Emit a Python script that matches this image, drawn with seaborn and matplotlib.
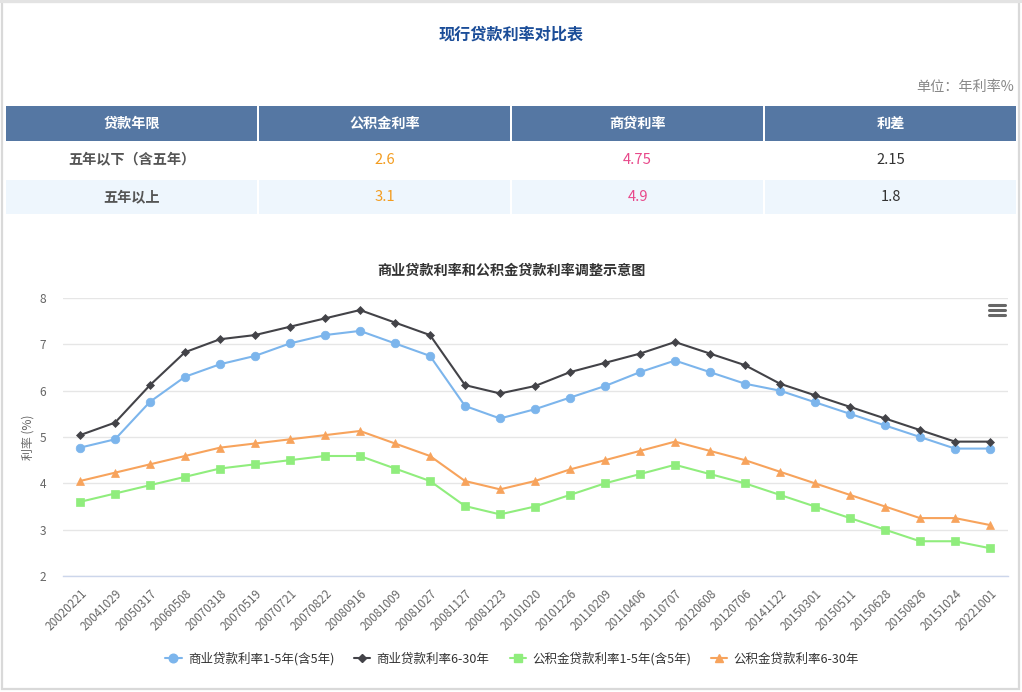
import matplotlib
matplotlib.use("Agg")
import matplotlib.pyplot as plt
from matplotlib.patches import Rectangle
from matplotlib.lines import Line2D
import seaborn as sns
import pandas as pd

sns.set_theme(style="white")
plt.rcParams['font.family'] = ['Noto Sans CJK SC', 'DejaVu Sans']

# ---------------- data ----------------
dates = ["20020221", "20041029", "20050317", "20060508", "20070318", "20070519",
         "20070721", "20070822", "20080916", "20081009", "20081027", "20081127",
         "20081223", "20101020", "20101226", "20110209", "20110406", "20110707",
         "20120608", "20120706", "20141122", "20150301", "20150511", "20150628",
         "20150826", "20151024", "20221001"]
com_short = [4.77, 4.95, 5.76, 6.30, 6.57, 6.75, 7.02, 7.20, 7.29, 7.02, 6.75, 5.67,
             5.40, 5.60, 5.85, 6.10, 6.40, 6.65, 6.40, 6.15, 6.00, 5.75, 5.50, 5.25,
             5.00, 4.75, 4.75]
com_long = [5.04, 5.31, 6.12, 6.83, 7.11, 7.20, 7.38, 7.56, 7.74, 7.47, 7.20, 6.12,
            5.94, 6.10, 6.40, 6.60, 6.80, 7.05, 6.80, 6.55, 6.15, 5.90, 5.65, 5.40,
            5.15, 4.90, 4.90]
pf_short = [3.60, 3.78, 3.96, 4.14, 4.32, 4.41, 4.50, 4.59, 4.59, 4.32, 4.05, 3.51,
            3.33, 3.50, 3.75, 4.00, 4.20, 4.40, 4.20, 4.00, 3.75, 3.50, 3.25, 3.00,
            2.75, 2.75, 2.60]
pf_long = [4.05, 4.23, 4.41, 4.59, 4.77, 4.86, 4.95, 5.04, 5.13, 4.86, 4.59, 4.05,
           3.87, 4.05, 4.30, 4.50, 4.70, 4.90, 4.70, 4.50, 4.25, 4.00, 3.75, 3.50,
           3.25, 3.25, 3.10]
series_names = ["商业贷款利率1-5年(含5年)", "商业贷款利率6-30年",
                "公积金贷款利率1-5年(含5年)", "公积金贷款利率6-30年"]
series_colors = ["#7cb5ec", "#434348", "#90ed7d", "#f7a35c"]
series_markers = ["o", "D", "s", "^"]
series_msize = [6.2, 3.8, 6.2, 6.2]

table_header = ["贷款年限", "公积金利率", "商贷利率", "利差"]
table_rows = [["五年以下（含五年）", "2.6", "4.75", "2.15"],
              ["五年以上", "3.1", "4.9", "1.8"]]

title = "现行贷款利率对比表"
unit_text = "单位：年利率%"
chart_title = "商业贷款利率和公积金贷款利率调整示意图"
y_label = "利率 (%)"
y_ticks = [2, 3, 4, 5, 6, 7, 8]

# ---------------- figure ----------------
W, H = 1022, 692
fig = plt.figure(figsize=(W / 100, H / 100), dpi=100)
fig.patch.set_facecolor("white")

def fx(x):
    return x / W

def fy(y):
    return 1 - y / H

# outer border
fig.patches.append(Rectangle((fx(2), fy(689)), fx(1017), (687) / H, transform=fig.transFigure,
                             fill=False, edgecolor="#d9d9d9", linewidth=1.6))
fig.patches.append(Rectangle((0, fy(3)), 1, 3 / H, transform=fig.transFigure,
                             facecolor="#e3e3e3", edgecolor="none"))

# title
fig.text(fx(511), fy(35), title, ha="center", va="center", fontsize=11.6,
         fontweight="bold", color="#1b4d98")
fig.text(fx(1014), fy(87), unit_text, ha="right", va="center", fontsize=10.2,
         color="#888888")

# table
col_edges = [(6, 257), (259, 510), (512, 763), (765, 1016)]
hdr_top, hdr_bot = 106, 141
row_spans = [(141, 178), (180, 214)]
row_bg = ["white", "#eef6fd"]
for (x0, x1), txt in zip(col_edges, table_header):
    fig.patches.append(Rectangle((fx(x0), fy(hdr_bot)), (x1 - x0) / W, (hdr_bot - hdr_top) / H,
                                 transform=fig.transFigure, facecolor="#5577a3", edgecolor="none"))
    fig.text(fx((x0 + x1) / 2), fy((hdr_top + hdr_bot) / 2), txt, ha="center", va="center",
             fontsize=10.2, fontweight="bold", color="white")
val_colors = ["#555555", "#f39c1f", "#e8488a", "#333333"]
for (r0, r1), bg, row in zip(row_spans, row_bg, table_rows):
    for ci, ((x0, x1), txt) in enumerate(zip(col_edges, row)):
        fig.patches.append(Rectangle((fx(x0), fy(r1)), (x1 - x0) / W, (r1 - r0) / H,
                                     transform=fig.transFigure, facecolor=bg, edgecolor="none"))
        fig.text(fx((x0 + x1) / 2), fy((r0 + r1) / 2), txt, ha="center", va="center",
                 fontsize=10.6 if ci else 10.2, fontweight="bold" if ci == 0 else "normal",
                 color=val_colors[ci])

# chart title
fig.text(fx(511), fy(271), chart_title, ha="center", va="center", fontsize=10.2,
         fontweight="bold", color="#333333")

# ---------------- line chart ----------------
ax_l, ax_r, ax_t, ax_b = 62.5, 1007.5, 298, 576
ax = fig.add_axes([fx(ax_l), fy(ax_b), (ax_r - ax_l) / W, (ax_b - ax_t) / H])

values = [com_short, com_long, pf_short, pf_long]
for name, vals, c, m, ms in zip(series_names, values, series_colors, series_markers, series_msize):
    df = pd.DataFrame({"date": dates, "rate": vals})
    sns.lineplot(data=df, x="date", y="rate", ax=ax, sort=False, color=c, marker=m,
                 markersize=ms, markeredgecolor=c, markeredgewidth=0.5, linewidth=1.5,
                 label=name, zorder=3)

ax.set_xlim(-0.5, len(dates) - 0.5)
ax.set_ylim(2, 8)
ax.set_yticks(y_ticks)
ax.set_yticklabels([str(t) for t in y_ticks])
ax.grid(axis="y", color="#e6e6e6", linewidth=1)
ax.grid(axis="x", visible=False)
for s in ["top", "right", "left"]:
    ax.spines[s].set_visible(False)
ax.spines["bottom"].set_color("#ccd6eb")
ax.spines["bottom"].set_linewidth(1)
ax.spines["bottom"].set_zorder(4)
ax.set_facecolor("none")
ax.tick_params(axis="y", length=0, pad=12, labelsize=8.6, labelcolor="#666666")
ax.tick_params(axis="x", length=7, width=1, color="#ccd6eb", direction="out",
               pad=1, labelsize=8.4, labelcolor="#666666")
ax.set_xticks(range(len(dates)))
ax.set_xticklabels(dates, rotation=45, ha="right", rotation_mode="anchor")
ax.set_xlabel("")
ax.set_ylabel(y_label, fontsize=8.6, color="#666666", labelpad=3)
ax.legend_.remove()

# legend
handles = [Line2D([0], [0], color=c, marker=m, markersize=ms, linewidth=1.5,
                  markeredgecolor=c) for c, m, ms in zip(series_colors, series_markers, series_msize)]
fig.legend(handles, series_names, loc="center", bbox_to_anchor=(fx(512), fy(659)),
           ncol=4, frameon=False, fontsize=9.0, handlelength=1.3, handletextpad=0.5,
           columnspacing=1.6, labelcolor="#333333")

# menu icon
for yy in (305, 310, 315):
    fig.add_artist(Line2D([fx(989), fx(1005)], [fy(yy), fy(yy)], transform=fig.transFigure,
                          color="#666666", linewidth=2.2, solid_capstyle="round"))

fig.savefig("out.png", dpi=100, facecolor="white")
